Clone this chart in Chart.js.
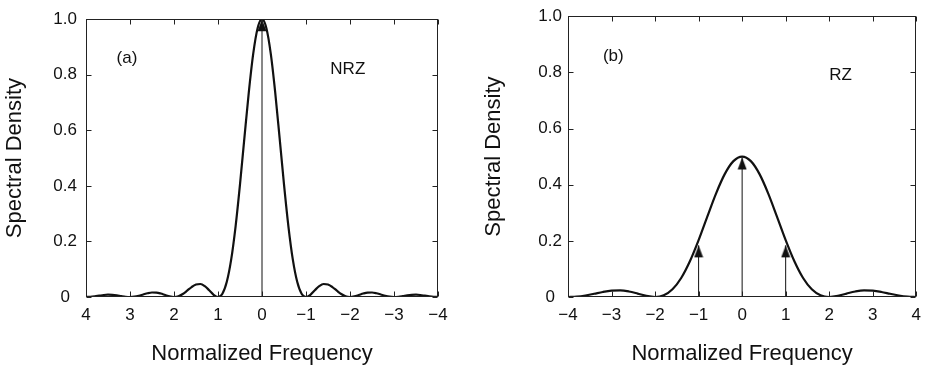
<!DOCTYPE html>
<html>
<head>
<meta charset="utf-8">
<script src="https://cdn.jsdelivr.net/npm/chart.js@4.4.0/dist/chart.umd.min.js"></script>
<style>
  body { margin: 0; background: #fff; }
  #wrap { position: relative; width: 929px; height: 367px; }
  canvas { position: absolute; top: 0; }
  #nrzChart { left: 0; }
  #rzChart { left: 464px; }
</style>
</head>
<body>
<div id="wrap">
  <canvas id="nrzChart" width="464" height="367"></canvas>
  <canvas id="rzChart" width="465" height="367"></canvas>
</div>
<script>
// (a) NRZ spectrum, every 0.1
var nrzFreq = [
  -4.0, -3.9, -3.8, -3.7, -3.6, -3.5, -3.4, -3.3, -3.2, -3.1,
  -3.0, -2.9, -2.8, -2.7, -2.6, -2.5, -2.4, -2.3, -2.2, -2.1,
  -2.0, -1.9, -1.8, -1.7, -1.6, -1.5, -1.4, -1.3, -1.2, -1.1,
  -1.0, -0.9, -0.8, -0.7, -0.6, -0.5, -0.4, -0.3, -0.2, -0.1,
  0.0, 0.1, 0.2, 0.3, 0.4, 0.5, 0.6, 0.7, 0.8, 0.9,
  1.0, 1.1, 1.2, 1.3, 1.4, 1.5, 1.6, 1.7, 1.8, 1.9,
  2.0, 2.1, 2.2, 2.3, 2.4, 2.5, 2.6, 2.7, 2.8, 2.9,
  3.0, 3.1, 3.2, 3.3, 3.4, 3.5, 3.6, 3.7, 3.8, 3.9,
  4.0
];
var nrzDensity = [
  0, 0.0006, 0.0024, 0.0048, 0.0071, 0.0083, 0.0079, 0.0061, 0.0034, 0.0010,
  0, 0.0012, 0.0045, 0.0091, 0.0136, 0.0162, 0.0159, 0.0125, 0.0072, 0.0022,
  0, 0.0027, 0.0108, 0.0229, 0.0358, 0.0450, 0.0468, 0.0392, 0.0243, 0.0080,
  0, 0.0119, 0.0547, 0.1353, 0.2546, 0.4053, 0.5728, 0.7368, 0.8751, 0.9675,
  1.0, 0.9675, 0.8751, 0.7368, 0.5728, 0.4053, 0.2546, 0.1353, 0.0547, 0.0119,
  0, 0.0080, 0.0243, 0.0392, 0.0468, 0.0450, 0.0358, 0.0229, 0.0108, 0.0027,
  0, 0.0022, 0.0072, 0.0125, 0.0159, 0.0162, 0.0136, 0.0091, 0.0045, 0.0012,
  0, 0.0010, 0.0034, 0.0061, 0.0079, 0.0083, 0.0071, 0.0048, 0.0024, 0.0006,
  0
];
// discrete line (arrow) of panel (a)
var nrzLineFreq = [0];
var nrzLineHeight = [1.0];

var rzFreq = [
  -4.0, -3.8, -3.6, -3.4, -3.2, -3.0, -2.8, -2.6, -2.4, -2.2,
  -2.0, -1.8, -1.6, -1.4, -1.2, -1.0, -0.8, -0.6, -0.4, -0.2,
  0.0, 0.2, 0.4, 0.6, 0.8, 1.0, 1.2, 1.4, 1.6, 1.8,
  2.0, 2.2, 2.4, 2.6, 2.8, 3.0, 3.2, 3.4, 3.6, 3.8,
  4.0
];
var rzDensity = [
  0, 0.0014, 0.0054, 0.0115, 0.0179, 0.0225, 0.0234, 0.0196, 0.0122, 0.0040,
  0, 0.0060, 0.0274, 0.0677, 0.1273, 0.2026, 0.2864, 0.3684, 0.4376, 0.4838,
  0.5, 0.4838, 0.4376, 0.3684, 0.2864, 0.2026, 0.1273, 0.0677, 0.0274, 0.0060,
  0, 0.0040, 0.0122, 0.0196, 0.0234, 0.0225, 0.0179, 0.0115, 0.0054, 0.0014,
  0
];
var rzLineFreq = [-1, 0, 1];
var rzLineHeight = [0.184, 0.497, 0.184];

var xTickValues = [-4, -3, -2, -1, 0, 1, 2, 3, 4];
var xTickLabels = ['\u22124', '\u22123', '\u22122', '\u22121', '0', '1', '2', '3', '4'];
var yTickValues = [0, 0.2, 0.4, 0.6, 0.8, 1.0];
var yTickLabels = ['0', '0.2', '0.4', '0.6', '0.8', '1.0'];

var ink = '#111';
Chart.defaults.font.family = '"Liberation Sans", Arial, Helvetica, sans-serif';
Chart.defaults.color = ink;

// filled arrow head, tip sits at the centre of the canvas
function makeArrowHead() {
    var c = document.createElement('canvas');
    c.width = 10;
    c.height = 26;
    var g = c.getContext('2d');
    g.fillStyle = ink;
    g.beginPath();
    g.moveTo(5, 13);
    g.lineTo(9.5, 25);
    g.lineTo(0.5, 25);
    g.closePath();
    g.fill();
    return c;
}
var arrowHead = makeArrowHead();

// box around the plot with inward ticks on all four sides
var framePlugin = {
    id: 'frame',
    afterDraw: function(chart) {
        var ctx = chart.ctx;
        var a = chart.chartArea;
        var l = Math.round(a.left) + 0.5, r = Math.round(a.right) - 0.5;
        var t = Math.round(a.top) + 0.5, b = Math.round(a.bottom) - 0.5;
        ctx.save();
        ctx.strokeStyle = '#222';
        ctx.lineWidth = 1;
        ctx.strokeRect(l, t, r - l, b - t);
        ctx.beginPath();
        chart.scales.x.ticks.forEach(function(tk) {
            var px = Math.round(chart.scales.x.getPixelForValue(tk.value)) + 0.5;
            ctx.moveTo(px, b); ctx.lineTo(px, b - 5);
            ctx.moveTo(px, t); ctx.lineTo(px, t + 5);
        });
        chart.scales.y.ticks.forEach(function(tk) {
            var py = Math.round(chart.scales.y.getPixelForValue(tk.value)) + 0.5;
            ctx.moveTo(l, py); ctx.lineTo(l + 5, py);
            ctx.moveTo(r, py); ctx.lineTo(r - 5, py);
        });
        ctx.stroke();
        ctx.restore();
    }
};

// panel labels such as (a) and NRZ, placed in data coordinates
var labelPlugin = {
    id: 'panelText',
    afterDatasetsDraw: function(chart, args, opts) {
        var ctx = chart.ctx;
        ctx.save();
        ctx.fillStyle = ink;
        ctx.font = '17px "Liberation Sans", Arial, sans-serif';
        ctx.textAlign = 'center';
        ctx.textBaseline = 'middle';
        (opts.items || []).forEach(function(it) {
            ctx.fillText(it.text, chart.scales.x.getPixelForValue(it.x), chart.scales.y.getPixelForValue(it.y));
        });
        ctx.restore();
    }
};

function toPoints(xs, ys) {
    return xs.map(function(x, i) { return { x: x, y: ys[i] }; });
}

function arrowSets(freqs, heights) {
    return freqs.map(function(f, i) {
        return {
            data: [{ x: f, y: 0 }, { x: f, y: heights[i] }],
            borderColor: ink,
            borderWidth: 1,
            pointRadius: [0, 4],
            pointStyle: arrowHead,
            clip: false
        };
    });
}

function drawPanel(id, cfg) {
    var datasets = [{
        data: toPoints(cfg.freq, cfg.density),
        borderColor: ink,
        borderWidth: 2.2,
        pointRadius: 0,
        cubicInterpolationMode: 'monotone'
    }].concat(arrowSets(cfg.lineFreq, cfg.lineHeight));

    return new Chart(document.getElementById(id), {
        type: 'line',
        data: { datasets: datasets },
        plugins: [framePlugin, labelPlugin],
        options: {
            responsive: false,
            animation: false,
            devicePixelRatio: 1,
            layout: { padding: cfg.padding },
            plugins: {
                legend: { display: false },
                tooltip: { enabled: false },
                panelText: { items: cfg.labels }
            },
            scales: {
                x: {
                    type: 'linear',
                    min: -4,
                    max: 4,
                    reverse: cfg.reverse,
                    grid: { display: false, drawTicks: false },
                    border: { display: false },
                    afterBuildTicks: function(s) {
                        s.ticks = xTickValues.map(function(v) { return { value: v }; });
                    },
                    afterFit: function(s) { s.height = 70; },
                    ticks: {
                        padding: 8,
                        maxRotation: 0,
                        autoSkip: false,
                        font: { size: 17 },
                        callback: function(v) { return xTickLabels[xTickValues.indexOf(v)]; }
                    },
                    title: {
                        display: true,
                        text: 'Normalized Frequency',
                        font: { size: 22 },
                        padding: { top: 0, bottom: 0 }
                    }
                },
                y: {
                    min: 0,
                    max: 1,
                    grid: { display: false, drawTicks: false },
                    border: { display: false },
                    afterBuildTicks: function(s) {
                        s.ticks = yTickValues.map(function(v) { return { value: v }; });
                    },
                    afterFit: function(s) { s.width = cfg.yWidth; },
                    ticks: {
                        padding: cfg.yTickPad,
                        crossAlign: 'center',
                        font: { size: 17 },
                        callback: function(v, i) { return yTickLabels[i]; }
                    },
                    title: {
                        display: true,
                        text: 'Spectral Density',
                        font: { size: 22 },
                        padding: { top: cfg.yTitlePad, bottom: 0 }
                    }
                }
            }
        }
    });
}

drawPanel('nrzChart', {
    freq: nrzFreq,
    density: nrzDensity,
    lineFreq: nrzLineFreq,
    lineHeight: nrzLineHeight,
    reverse: true,
    padding: { left: 0, top: 15, right: 26, bottom: 0 },
    yWidth: 86,
    yTickPad: 9,
    yTitlePad: 2,
    labels: [{ text: '(a)', x: 3.07, y: 0.858 }, { text: 'NRZ', x: -1.95, y: 0.82 }]
});

drawPanel('rzChart', {
    freq: rzFreq,
    density: rzDensity,
    lineFreq: rzLineFreq,
    lineHeight: rzLineHeight,
    reverse: false,
    padding: { left: 16, top: 15, right: 7, bottom: 0 },
    yWidth: 88,
    yTickPad: 6,
    yTitlePad: 1,
    labels: [{ text: '(b)', x: -2.96, y: 0.858 }, { text: 'RZ', x: 2.26, y: 0.79 }]
});
</script>
</body>
</html>
